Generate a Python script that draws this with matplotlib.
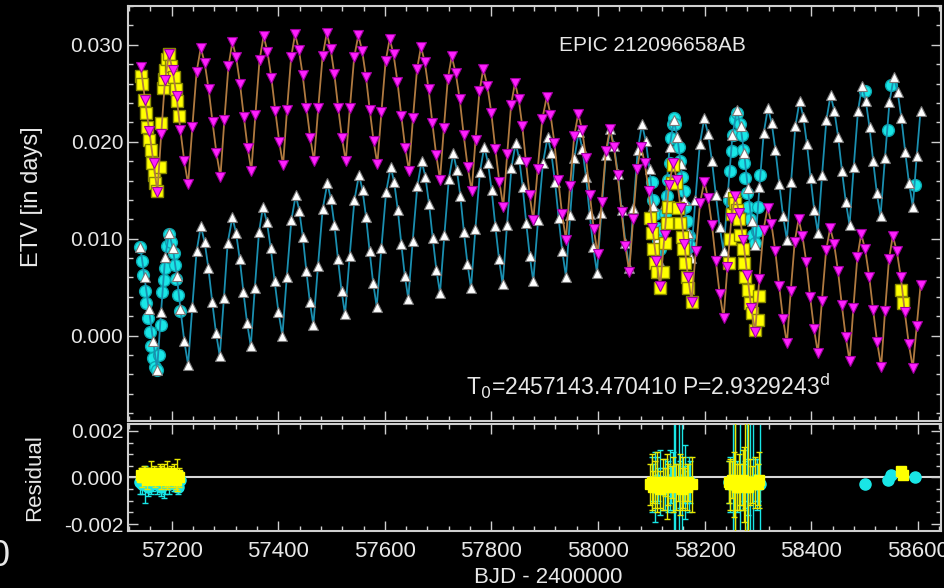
import matplotlib
matplotlib.use('Agg')
import matplotlib.pyplot as plt
from matplotlib.ticker import MultipleLocator, FormatStrFormatter
import numpy as np

plt.rcParams['font.family'] = ['Liberation Sans', 'DejaVu Sans']

# values, ETV and residuals in units of 0.001 d

# model curve of the primary eclipses (white triangles)
pri_t = [57141.3, 57149.0, 57157.0, 57165.0,
         57172.6, 57180.0, 57187.7, 57195.1, 57202.2, 57209.4, 57216.5, 57223.7,
         57230.8, 57238.7, 57246.7, 57254.6, 57261.7, 57268.8, 57276.0, 57283.1,
         57290.2, 57298.0, 57305.1, 57313.9, 57320.8, 57327.7, 57334.6, 57341.5,
         57348.4, 57356.0, 57363.8, 57371.4, 57378.7, 57385.9, 57393.2, 57400.4,
         57407.7, 57416.0, 57424.5, 57432.8, 57439.4, 57446.0, 57452.6, 57459.2,
         57465.8, 57474.5, 57483.4, 57492.1, 57498.7, 57505.4, 57512.0, 57518.7,
         57525.3, 57533.9, 57542.9, 57551.5, 57558.1, 57564.8, 57571.4, 57578.1,
         57584.7, 57593.4, 57602.3, 57611.0, 57617.6, 57624.2, 57630.8, 57637.4,
         57644.0, 57652.3, 57660.8, 57669.1, 57676.0, 57682.9, 57689.7, 57696.6,
         57703.5, 57711.7, 57720.1, 57728.4, 57735.0, 57741.7, 57748.3, 57755.0,
         57761.6, 57769.9, 57778.4, 57786.6, 57793.5, 57800.4, 57807.3, 57814.2,
         57821.1, 57829.2, 57837.4, 57845.5, 57852.1, 57858.7, 57865.3, 57871.9,
         57878.5, 57887.4, 57896.6, 57905.5, 57912.4, 57919.2, 57926.1, 57932.9,
         57939.8, 57947.7, 57955.7, 57963.6, 57970.5, 57977.4, 57984.2, 57991.1,
         57998.0, 58006.2, 58014.7, 58022.9, 58030.0, 58037.2, 58044.3, 58051.5,
         58058.6, 58066.5, 58074.5, 58082.4, 58089.5, 58096.6, 58103.8, 58110.9,
         58118.0, 58126.1, 58134.3, 58142.4, 58148.8, 58155.2, 58161.5, 58167.9,
         58174.3, 58182.6, 58191.1, 58199.3, 58206.6, 58213.8, 58221.1, 58228.3,
         58235.6, 58243.8, 58252.3, 58260.5, 58267.4, 58274.3, 58281.1, 58288.0,
         58294.9, 58302.8, 58310.9, 58318.8, 58325.9, 58333.0, 58340.2, 58347.3,
         58354.4, 58362.3, 58370.3, 58378.2, 58385.1, 58391.9, 58398.8, 58405.6,
         58412.5, 58420.4, 58428.4, 58436.3, 58443.4, 58450.6, 58457.7, 58464.9,
         58472.0, 58479.8, 58487.8, 58495.6, 58502.5, 58509.4, 58516.3, 58523.2,
         58530.1, 58538.4, 58546.9, 58555.1, 58562.2, 58569.3, 58576.5, 58583.6,
         58590.7, 58598.0, 58605.2]
pri_v = [9.1, 6.0, 2.8, -0.5,
         -3.5, 2.4, 8.1, 10.6, 9.0, 6.2, 2.7, -0.6,
         -3.0, 3.0, 8.7, 11.3, 9.7, 7.0, 3.5, 0.3,
         -2.1, 3.9, 9.6, 12.2, 10.6, 7.9, 4.5, 1.3,
         -1.1, 4.9, 10.7, 13.3, 11.7, 9.0, 5.6, 2.4,
         0.0, 6.1, 11.9, 14.5, 12.9, 10.2, 6.7, 3.5,
         1.1, 7.2, 13.1, 15.7, 14.1, 11.4, 7.9, 4.6,
         2.2, 8.2, 14.0, 16.6, 15.0, 12.2, 8.7, 5.4,
         3.0, 9.0, 14.8, 17.4, 15.8, 13.0, 9.5, 6.2,
         3.8, 9.8, 15.4, 18.0, 16.4, 13.6, 10.1, 6.8,
         4.4, 10.4, 16.2, 18.8, 17.1, 14.4, 10.7, 7.4,
         4.9, 11.0, 16.9, 19.5, 17.8, 15.0, 11.3, 7.9,
         5.3, 11.4, 17.3, 19.9, 18.2, 15.3, 11.6, 8.2,
         5.6, 11.9, 17.8, 20.5, 18.8, 15.9, 12.1, 8.7,
         6.1, 12.4, 18.3, 21.0, 19.3, 16.4, 12.6, 9.1,
         6.5, 12.7, 18.6, 21.3, 19.6, 16.7, 13.0, 9.6,
         7.0, 13.2, 19.1, 21.8, 20.1, 17.2, 13.4, 9.9,
         7.3, 13.6, 19.5, 22.2, 20.5, 17.7, 14.0, 10.6,
         8.0, 14.0, 19.8, 22.4, 20.8, 18.0, 14.5, 11.2,
         8.7, 14.8, 20.7, 23.3, 21.6, 18.8, 15.2, 11.8,
         9.3, 15.3, 20.9, 23.5, 21.9, 19.1, 15.6, 12.3,
         9.9, 15.9, 21.6, 24.2, 22.6, 19.8, 16.3, 13.0,
         10.6, 16.6, 22.2, 24.8, 23.2, 20.5, 17.0, 13.8,
         11.4, 17.4, 23.2, 25.8, 24.2, 21.5, 18.0, 14.7,
         12.3, 18.3, 24.1, 26.7, 25.1, 22.4, 18.9, 15.7,
         13.3, 18.5, 23.2]

# model curve of the secondary eclipses (magenta triangles)
sec_t = [57142.0, 57150.0, 57158.0, 57166.0,
         57173.2, 57180.3, 57187.5, 57194.6, 57201.8, 57209.1, 57216.3, 57223.6,
         57230.8, 57238.7, 57246.7, 57254.6, 57262.0, 57269.3, 57276.7, 57284.0,
         57291.4, 57298.8, 57306.5, 57313.9, 57321.0, 57328.1, 57335.3, 57342.4,
         57349.5, 57357.1, 57364.8, 57372.4, 57379.7, 57387.0, 57394.4, 57401.7,
         57409.0, 57416.4, 57424.1, 57431.5, 57438.6, 57445.7, 57452.9, 57460.0,
         57467.1, 57475.0, 57483.1, 57491.0, 57498.1, 57505.2, 57512.4, 57519.5,
         57526.6, 57534.4, 57542.4, 57550.2, 57557.3, 57564.5, 57571.6, 57578.8,
         57585.9, 57593.6, 57601.4, 57609.1, 57616.3, 57623.6, 57630.8, 57638.1,
         57645.3, 57652.7, 57660.4, 57667.8, 57674.9, 57682.1, 57689.2, 57696.4,
         57703.5, 57710.7, 57718.2, 57725.4, 57732.9, 57740.4, 57747.9, 57755.4,
         57762.9, 57770.1, 57777.5, 57784.7, 57792.2, 57799.7, 57807.2, 57814.7,
         57822.2, 57829.5, 57836.9, 57844.2, 57851.1, 57857.9, 57864.8, 57871.6,
         57878.5, 57886.8, 57895.3, 57903.6, 57910.8, 57918.1, 57925.3, 57932.6,
         57939.8, 57947.4, 57955.3, 57962.9, 57970.2, 57977.5, 57984.7, 57992.0,
         57999.3, 58006.9, 58014.7, 58022.3, 58029.6, 58036.8, 58044.1, 58051.3,
         58058.6, 58065.8, 58073.3, 58080.5, 58087.7, 58095.0, 58102.2, 58109.5,
         58116.7, 58124.8, 58133.0, 58141.1, 58148.0, 58154.9, 58161.8, 58168.7,
         58175.6, 58183.4, 58191.5, 58199.3, 58206.6, 58213.8, 58221.1, 58228.3,
         58235.6, 58242.8, 58250.2, 58257.4, 58264.9, 58272.4, 58279.9, 58287.4,
         58294.9, 58302.6, 58310.5, 58318.2, 58325.4, 58332.7, 58339.9, 58347.2,
         58354.4, 58361.6, 58369.1, 58376.3, 58383.5, 58390.8, 58398.0, 58405.3,
         58412.5, 58420.1, 58428.0, 58435.6, 58442.9, 58450.2, 58457.4, 58464.7,
         58472.0, 58479.2, 58486.6, 58493.8, 58501.3, 58508.8, 58516.3, 58523.8,
         58531.3, 58538.5, 58546.0, 58553.2, 58560.7, 58568.2, 58575.7, 58583.2,
         58590.7, 58598.0, 58605.2]
sec_v = [27.7, 24.3, 21.1, 17.8,
         14.8, 20.8, 26.4, 29.0, 27.4, 24.7, 21.2, 18.0,
         15.6, 21.5, 27.2, 29.7, 28.1, 25.4, 22.0, 18.8,
         16.4, 22.2, 27.8, 30.3, 28.7, 26.0, 22.6, 19.4,
         17.0, 22.8, 28.4, 30.9, 29.3, 26.6, 23.2, 20.0,
         17.6, 23.3, 28.7, 31.1, 29.5, 26.9, 23.5, 20.4,
         18.0, 23.5, 28.8, 31.2, 29.6, 27.0, 23.5, 20.4,
         18.0, 23.5, 28.7, 31.0, 29.4, 26.7, 23.3, 20.1,
         17.7, 23.1, 28.3, 30.6, 29.0, 26.2, 22.7, 19.4,
         17.0, 22.4, 27.5, 29.8, 28.2, 25.4, 21.9, 18.6,
         16.1, 21.4, 26.5, 28.8, 27.1, 24.4, 20.7, 17.4,
         14.9, 20.2, 25.2, 27.5, 25.8, 23.0, 19.3, 15.9,
         13.3, 18.7, 23.8, 26.1, 24.4, 21.6, 17.9, 14.5,
         11.9, 17.2, 22.3, 24.6, 22.8, 19.9, 16.1, 12.5,
         9.9, 15.4, 20.6, 22.9, 21.2, 18.3, 14.5, 11.0,
         8.4, 13.8, 19.0, 21.3, 19.5, 16.6, 12.8, 9.2,
         6.6, 12.0, 17.2, 19.5, 17.8, 14.9, 11.1, 7.7,
         5.1, 10.4, 15.5, 17.8, 16.1, 13.2, 9.5, 6.1,
         3.5, 8.7, 13.7, 15.9, 14.2, 11.4, 7.7, 4.3,
         1.8, 7.1, 12.1, 14.4, 12.7, 9.9, 6.3, 2.9,
         0.4, 5.8, 10.9, 13.2, 11.5, 8.7, 5.1, 1.7,
         -0.8, 4.6, 9.7, 12.0, 10.3, 7.6, 4.0, 0.7,
         -1.8, 3.6, 8.8, 11.1, 9.5, 6.7, 3.2, -0.1,
         -2.6, 2.9, 8.1, 10.5, 8.9, 6.1, 2.6, -0.7,
         -3.2, 2.5, 7.9, 10.3, 8.7, 6.0, 2.4, -0.9,
         -3.3, 1.0, 5.2]

# observed primary eclipses (cyan circles): time, ETV, residual, error
pri_obs_t = [57141.3, 57144.5, 57146.4, 57149.5, 57152.5, 57155.7, 57158.9, 57161.9,
             57165.1, 57168.3, 57173.2, 57175.8, 57180.7, 57182.6, 57185.7, 57188.2,
             57191.4, 57195.1, 57199.4, 57203.9, 57205.8, 57208.8, 57212.0, 57215.2,
             58100.6, 58103.6, 58106.8, 58110.0, 58113.0, 58116.2, 58122.3, 58125.5,
             58128.7, 58131.7, 58134.9, 58136.2, 58139.9, 58142.4, 58144.8, 58151.2,
             58154.2, 58157.4, 58160.6, 58163.6, 58166.8, 58170.0, 58173.0,
             58245.0, 58248.0, 58251.0, 58253.6, 58256.7, 58259.9, 58266.2, 58269.4,
             58272.4, 58273.7, 58275.6, 58278.8, 58281.8, 58285.0, 58291.2, 58294.4,
             58297.5, 58300.5, 58303.7,
             58501.3, 58543.8, 58550.0, 58593.9]
pri_obs_v = [9.1, 7.7, 6.3, 4.6, 3.4, 1.8, 0.4, -1.1,
             -2.3, -3.2, -3.5, -2.0, 1.1, 4.5, 5.7, 7.0,
             9.2, 10.5, 9.7, 8.5, 7.3, 5.8, 4.2, 2.5,
             15.9, 14.0, 12.5, 11.1, 9.9, 8.9, 10.9, 12.5,
             14.4, 16.1, 17.8, 20.4, 21.8, 22.4, 21.8, 19.5,
             18.0, 16.4, 14.9, 13.3, 11.8, 10.3, 9.2,
             14.0, 17.0, 19.0, 20.7, 22.3, 23.0, 21.8, 20.7,
             19.2, 17.8, 16.3, 14.7, 13.3, 12.0, 10.4, 9.6,
             10.8, 13.3, 16.6,
             25.2, 21.2, 25.9, 15.5]
pri_res = [-0.2, -0.3, -0.1, -0.3, -0.2, -0.4, -0.2, -0.3,
           -0.1, -0.2, -0.3, -0.2, -0.4, -0.1, -0.3, -0.2,
           -0.2, -0.3, -0.1, -0.2, -0.3, -0.2, -0.4, -0.1,
           -0.3, -0.2, -0.4, -0.1, -0.3, -0.2, -0.5, -0.3,
           -0.2, -0.4, -0.1, -0.3, -0.2, -0.3, -0.4, -0.2,
           -0.3, -0.1, -0.3, -0.2, -0.4, -0.3, -0.2,
           -0.2, -0.3, -0.1, -0.3, -0.2, -0.4, -0.2, -0.3,
           -0.1, -0.2, -0.3, -0.2, -0.4, -0.3, -0.2, -0.1,
           -0.3, -0.2, -0.3,
           -0.3, -0.1, 0.1, 0.0]
pri_err = [0.5, 0.4, 0.3, 0.8, 0.3, 0.4, 0.3, 0.4,
           0.5, 0.3, 0.4, 0.3, 0.4, 0.3, 0.6, 0.5,
           0.3, 0.4, 0.3, 0.4, 0.3, 0.4, 0.3, 0.4,
           1.2, 0.8, 1.5, 1.0, 0.7, 1.4, 0.9, 1.1,
           0.6, 1.1, 1.3, 0.8, 1.3, 3.0, 3.0, 3.0,
           1.0, 3.0, 0.8, 1.6, 0.7, 1.2, 0.9,
           0.9, 1.2, 0.8, 3.0, 3.0, 1.1, 3.0, 0.9,
           1.3, 0.8, 1.0, 3.0, 1.2, 3.0, 3.0, 0.9,
           1.1, 0.8, 3.0,
           0.05, 0.05, 0.05, 0.05]

# observed secondary eclipses (yellow squares)
sec_obs_t = [57142.0, 57145.0, 57148.2, 57151.4, 57154.4, 57157.6, 57160.8, 57163.2,
             57166.4, 57168.3, 57173.2, 57177.7, 57180.7, 57183.9, 57185.7, 57188.2,
             57191.9, 57195.1, 57199.4, 57203.9, 57207.7, 57210.7, 57213.3,
             58097.4, 58100.6, 58103.6, 58106.8, 58110.0, 58116.2, 58122.3, 58125.5,
             58128.7, 58131.7, 58138.0, 58141.1, 58146.2, 58150.5, 58153.6, 58156.8,
             58159.8, 58163.0, 58166.2, 58169.2, 58175.6,
             58245.0, 58248.0, 58251.0, 58254.4, 58257.4, 58260.6, 58263.8, 58266.8,
             58271.3, 58273.2, 58276.2, 58281.3, 58285.6, 58288.7, 58295.0, 58300.0,
             58302.5,
             58568.7, 58571.6]
sec_obs_v = [26.8, 26.0, 24.3, 23.0, 21.5, 20.2, 19.2, 17.8,
             16.6, 15.7, 14.9, 17.4, 21.9, 25.5, 26.5, 27.4,
             28.5, 29.1, 27.8, 26.7, 25.4, 24.2, 22.7,
             12.1, 10.6, 8.9, 7.5, 6.6, 4.9, 6.6, 9.6,
             11.6, 13.3, 15.7, 17.6, 15.7, 13.2, 11.6, 10.2,
             8.9, 7.5, 6.1, 4.9, 3.5,
             7.5, 10.0, 12.5, 14.2, 13.7, 13.0, 12.0, 10.4,
             8.9, 7.5, 6.1, 4.7, 3.4, 2.3, 0.6, 1.6,
             4.1,
             4.7, 3.4]
sec_res = [0.1, 0.0, 0.2, 0.1, -0.1, 0.1, 0.2, 0.0,
           0.1, -0.1, 0.1, 0.2, 0.0, 0.1, 0.2, -0.1,
           0.1, 0.0, 0.2, 0.1, -0.1, 0.1, 0.0,
           -0.3, -0.2, -0.4, -0.3, -0.2, -0.5, -0.3, -0.2,
           -0.4, -0.3, -0.2, -0.3, -0.4, -0.2, -0.3, -0.5,
           -0.2, -0.3, -0.4, -0.2, -0.3,
           -0.2, -0.3, -0.1, -0.3, -0.2, -0.4, -0.2, -0.3,
           -0.1, -0.3, -0.2, -0.4, -0.2, -0.3, -0.2, -0.3,
           -0.1,
           0.3, 0.1]
sec_err = [0.3, 0.4, 0.3, 0.3, 0.4, 0.3, 0.5, 0.3,
           0.4, 0.3, 0.3, 0.4, 0.5, 0.3, 0.4, 0.3,
           0.6, 0.4, 0.3, 0.5, 0.4, 0.7, 0.4,
           0.9, 1.2, 0.7, 1.0, 1.3, 0.8, 1.1, 0.6,
           1.4, 0.9, 0.7, 1.2, 1.0, 0.8, 1.3, 0.9,
           1.1, 0.7, 1.0, 0.8, 1.2,
           0.9, 1.1, 0.8, 1.4, 3.0, 1.0, 1.2, 0.9,
           1.3, 1.6, 3.0, 3.0, 1.0, 0.8, 1.1, 0.9,
           1.2,
           0.05, 0.05]

title_text = 'EPIC 212096658AB'
ephem_text = r'T$_0$=2457143.470410 P=2.9329243$^{\rm d}$'

mday = 1e-3
fg = '#e8e8e8'
spine_c = '#cfcfcf'

fig = plt.figure(figsize=(9.44, 5.88), dpi=100, facecolor='black')
ax1 = fig.add_axes([128/944, 1-421/588, 812.7/944, 415/588])
ax2 = fig.add_axes([128/944, 1-531/588, 812.7/944, 107/588])

for ax in (ax1, ax2):
    ax.set_facecolor('black')
    for s in ax.spines.values():
        s.set_color(spine_c)
        s.set_linewidth(1.5)
    ax.tick_params(which='both', direction='in', top=True, right=True,
                   colors=spine_c, labelcolor=fg, labelsize=15, width=1)
    ax.tick_params(which='major', length=7)
    ax.tick_params(which='minor', length=3.5)
    ax.set_xlim(57118, 58643)
    ax.xaxis.set_major_locator(MultipleLocator(200))
    ax.xaxis.set_minor_locator(MultipleLocator(40))

# top panel: ETV
ax1.plot(np.array(pri_obs_t), np.array(pri_obs_v)*mday, 'o', ms=8.5,
         mfc='#19e6e6', mec='#0aa8b0', mew=1, zorder=2)
ax1.plot(np.array(pri_t), np.array(pri_v)*mday, '-', color='#1a8fb0', lw=1.3, zorder=3)
ax1.plot(np.array(pri_t), np.array(pri_v)*mday, '^', ms=6.5, mfc='white',
         mec='#7a7a7a', mew=0.8, ls='none', zorder=4)
ax1.plot(np.array(sec_obs_t), np.array(sec_obs_v)*mday, 's', ms=8,
         mfc='#ffff00', mec='#8a8a00', mew=1, zorder=5)
ax1.plot(np.array(sec_t), np.array(sec_v)*mday, '-', color='#b07a40', lw=1.3, zorder=6)
ax1.plot(np.array(sec_t), np.array(sec_v)*mday, 'v', ms=6.5, mfc='#ff20ff',
         mec='#a000a0', mew=0.8, ls='none', zorder=7)

ax1.set_ylim(-0.0088, 0.0340)
ax1.yaxis.set_major_locator(MultipleLocator(0.010))
ax1.yaxis.set_minor_locator(MultipleLocator(0.002))
ax1.yaxis.set_major_formatter(FormatStrFormatter('%.3f'))
ax1.tick_params(labelbottom=False)
ax1.set_ylabel('ETV [in days]', color=fg, fontsize=17)
ax1.yaxis.set_label_coords(-0.104, 0.54)
ax1.text(0.645, 0.906, title_text, transform=ax1.transAxes, color=fg,
         fontsize=15, ha='center', va='center')
ax1.text(0.640, 0.085, ephem_text, transform=ax1.transAxes, color=fg,
         fontsize=16.5, ha='center', va='center')

# bottom panel: residuals
ax2.axhline(0, color='#d8d8d8', lw=1.5, zorder=1)
ax2.errorbar(pri_obs_t, np.array(pri_res)*mday, yerr=np.array(pri_err)*mday,
             fmt='o', ms=8, mfc='#19e6e6', mec='#19e6e6', ecolor='#19e6e6',
             elinewidth=1, capsize=2.5, zorder=2)
ax2.errorbar(sec_obs_t, np.array(sec_res)*mday, yerr=np.array(sec_err)*mday,
             fmt='s', ms=7.5, mfc='#ffff00', mec='#ffff00', ecolor='#e8e800',
             elinewidth=1, capsize=2.5, zorder=3)
ax2.set_ylim(-0.0023, 0.0023)
ax2.yaxis.set_major_locator(MultipleLocator(0.002))
ax2.yaxis.set_minor_locator(MultipleLocator(0.0005))
ax2.yaxis.set_major_formatter(FormatStrFormatter('%.3f'))
ax2.set_ylabel('Residual', color=fg, fontsize=16)
ax2.yaxis.set_label_coords(-0.102, 0.5)
ax2.set_xlabel('BJD - 2400000', color=fg, fontsize=16)
ax2.xaxis.set_label_coords(0.517, -0.335)
ax2.tick_params(axis='x', labelsize=16, pad=7)

fig.text(0.0, 1-557/588, '0', color=fg, fontsize=26, ha='center', va='center')

fig.savefig('out.png', dpi=100, facecolor='black')
